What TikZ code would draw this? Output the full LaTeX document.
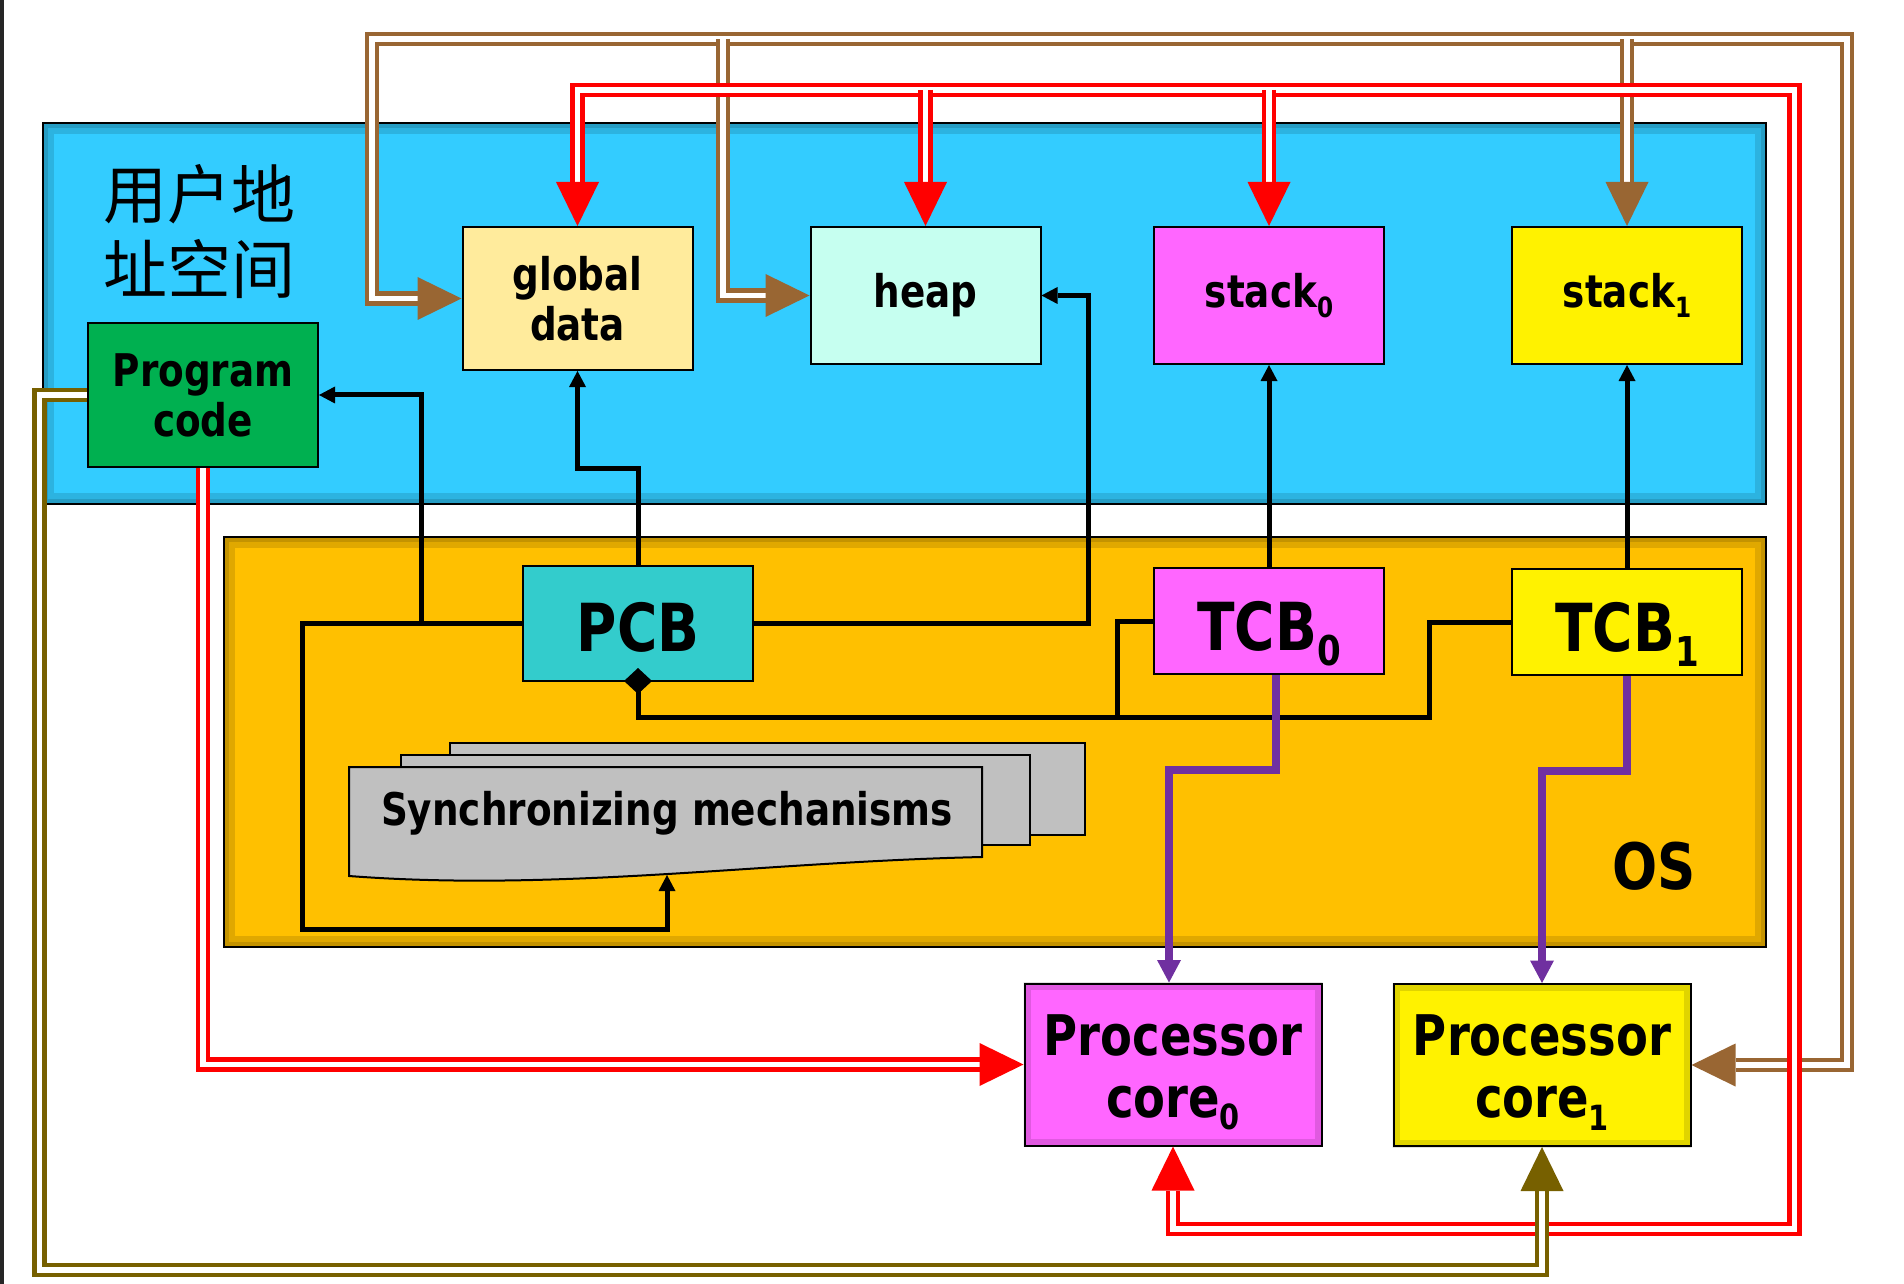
\documentclass[tikz,border=0pt]{standalone}
\usepackage{fontspec}
\usepackage{graphicx}
\usetikzlibrary{positioning,arrows.meta}
\newfontfamily\boxfont{DejaVu Sans}[FakeStretch=0.83]
\newfontfamily\cjkfont{Noto Sans CJK SC}
\definecolor{userblue}{HTML}{33CCFF}
\definecolor{osorange}{HTML}{FFC000}
\definecolor{globcol}{HTML}{FFEB9C}
\definecolor{heapcol}{HTML}{C6FFF0}
\definecolor{magcol}{HTML}{FF66FF}
\definecolor{pcbcol}{HTML}{33CCCC}
\definecolor{progcol}{HTML}{00B050}
\definecolor{synccol}{HTML}{C0C0C0}
\definecolor{browncol}{HTML}{996633}
\definecolor{olivecol}{HTML}{776000}
\definecolor{purplecol}{HTML}{7030A0}
\newcommand{\lowidx}[1]{\raisebox{-0.22em}{\scalebox{0.62}{#1}}}
\tikzset{
  Big/.tip={Triangle[length=17.6pt,width=17.2pt,line width=0pt]},
  Small/.tip={Triangle[length=6.4pt,width=6.8pt,line width=0pt]},
  Mid/.tip={Triangle[length=9pt,width=9.6pt,line width=0pt]},
}
\begin{document}
\begin{tikzpicture}[x=0.4pt, y=-0.4pt,
  box/.style={draw, line width=0.8pt, minimum width=92pt, align=center, inner sep=0pt,
    font={\boxfont\bfseries\fontsize{18}{20}\selectfont}},
  bigbox/.style={box, text height=22pt, text depth=0pt,
    font={\boxfont\bfseries\fontsize{26.5}{28}\selectfont}},
  corebox/.style={box, minimum width=118.8pt, minimum height=64.8pt,
    font={\boxfont\bfseries\fontsize{22.4}{24.8}\selectfont}},
  region/.style={draw, line width=0.8pt},
  shade/.style={draw=black, opacity=0.12, line width=#1},
  doc/.style={draw, line width=0.8pt, fill=synccol},
  bus/.style={line width=1.8pt, double=white, double distance=2.2pt, -Big},
  link/.style={line width=2pt, -Small},
  ctl/.style={draw=purplecol, line width=3pt, -Mid}]
  \useasboundingbox (0,0) rectangle (1904,1284);
  \fill[white] (0,0) rectangle (1904,1284);
  \fill[black!85] (0,0) rectangle (4,1284);

  % address space and OS
  \draw[region, fill=userblue] (43,123) rectangle (1766,504);
  \begin{scope}
    \clip (43,123) rectangle (1766,504);
    \draw[shade=4pt] (43,123) rectangle (1766,504);
    \draw[shade=9pt] (43,123) rectangle (1766,504);
  \end{scope}
  \draw[region, fill=osorange] (224,537) rectangle (1766,947);
  \begin{scope}
    \clip (224,537) rectangle (1766,947);
    \draw[shade=4pt] (224,537) rectangle (1766,947);
    \draw[shade=9pt] (224,537) rectangle (1766,947);
  \end{scope}
  \node[font={\cjkfont\fontsize{25.6}{30}\selectfont}, align=left] (uas) at (199.5,231.5) {用户地\\址空间};
  \node[font={\boxfont\bfseries\fontsize{25.6}{28}\selectfont}] (os) at (1654,866) {OS};

  % synchronizing mechanisms
  \draw[doc] (450,743) rectangle (1085,835);
  \draw[doc] (401,755) rectangle (1030,845);
  \draw[doc] (349,767) -- (982,767) -- (982,857) .. controls (760,862) and (560,892) .. (349,876) -- cycle;
  \node[font={\boxfont\bfseries\fontsize{18}{20}\selectfont}] (sync) at (667,813) {Synchronizing mechanisms};
  \coordinate (syncbot) at (667,875);

  % boxes
  \node[box, fill=globcol, minimum height=57.2pt] (glob) at (577.5,298.5) {global\\data};
  \node[box, fill=heapcol, minimum height=54.8pt] (heap) at (925.5,295.5) {heap};
  \node[box, fill=magcol, minimum height=54.8pt] (stack0) at (1269,295.5) {stack\lowidx{0}};
  \node[box, fill=yellow, minimum height=54.8pt] (stack1) at (1627,295.5) {stack\lowidx{1}};
  \node[box, fill=progcol, minimum height=57.6pt] (prog) at (203,395) {Program\\code};
  \node[bigbox, fill=pcbcol, minimum height=46pt] (pcb) at (638,623.5) {PCB};
  \node[bigbox, fill=magcol, minimum height=42.4pt, text height=23.6pt, below=80.8pt of stack0] (tcb0) {TCB\lowidx{0}};
  \node[bigbox, fill=yellow, minimum height=42.4pt, text height=23.6pt, below=81.2pt of stack1] (tcb1) {TCB\lowidx{1}};
  \node[corebox, fill=magcol] (core0) at (1173,1064.5) {\rule{0pt}{22.4pt}Processor\\core\lowidx{0}};
  \node[corebox, fill=yellow] (core1) at (1542,1065) {\rule{0pt}{22.4pt}Processor\\core\lowidx{1}};
  \begin{scope}
    \clip (core0.south west) rectangle (core0.north east);
    \draw[shade=6pt] (core0.south west) rectangle (core0.north east);
  \end{scope}
  \begin{scope}
    \clip (core1.south west) rectangle (core1.north east);
    \draw[shade=6pt] (core1.south west) rectangle (core1.north east);
  \end{scope}

  % buses
  \coordinate (bh) at (723,39);
  \coordinate (bs) at (1627,39);
  \coordinate (rh) at (925.5,90);
  \coordinate (rs) at (1269,90);
  \draw[bus, draw=browncol, Big-Big] (glob.west) -| (372,39) -- (1847,39) |- (core1.east);
  \draw[bus, draw=browncol] (bh) |- (heap.west);
  \draw[bus, draw=browncol] (bs) -- (stack1.north);
  \draw[bus, draw=red, Big-Big] (glob.north) |- (1794.5,90) |- (1173,1229) -- (core0.south);
  \draw[bus, draw=red] (rh) -- (heap.north);
  \draw[bus, draw=red] (rs) -- (stack0.north);
  \draw[bus, draw=red] (prog.south) |- (core0.west);
  \draw[bus, draw=olivecol] (prog.west) -| (39.5,1270) -| (core1.south);

  % links
  \coordinate (pcbl) at (421,623.5);
  \coordinate (tj) at (1117,717);
  \draw[link] (pcb.west) -| (302,929) -| (syncbot);
  \draw[link] (pcbl) |- (prog.east);
  \draw[link] (pcb.north) |- (577.5,468) -- (glob.south);
  \draw[link] (pcb.east) -| (1088,295.5) -- (heap.east);
  \draw[link] (tcb0.north) -- (stack0.south);
  \draw[link] (tcb1.north) -- (stack1.south);
  \draw[line width=2pt, {Diamond[length=10.4pt,width=11.2pt,line width=0pt]}-] ([yshift=5.6pt]pcb.south) |- (1429,717) |- (tcb1.west);
  \draw[line width=2pt] (tj) |- (tcb0.west);
  \draw[ctl] ([xshift=2.8pt]tcb0.south) -- ++(0,95) -| ([xshift=-1.6pt]core0.north);
  \draw[ctl] (tcb1.south) -- ++(0,95) -| (core1.north);
\end{tikzpicture}
\end{document}
